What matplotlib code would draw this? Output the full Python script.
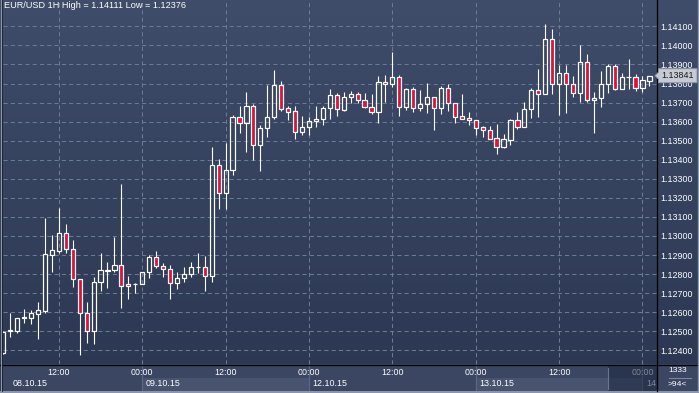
"""
EUR/USD 1H candlestick chart (08.10.15 - 14.10.15)
"""

import numpy as np
import pandas as pd
import matplotlib
matplotlib.use('Agg')
import matplotlib.pyplot as plt
from matplotlib.colors import LinearSegmentedColormap
from matplotlib.patches import Rectangle, Polygon

plt.rcParams['font.family'] = ['Liberation Sans', 'DejaVu Sans']

# hourly bars, weekend skipped
times = pd.date_range('2015-10-08 04:00', '2015-10-09 23:00', freq='h').append(
    pd.date_range('2015-10-12 00:00', '2015-10-14 01:00', freq='h'))

opens = [1.12388, 1.12501, 1.12503, 1.12568, 1.12571, 1.12592, 1.12608, 1.12902, 1.12923, 1.13016,
         1.12930, 1.12772, 1.12594, 1.12500, 1.12757, 1.12816, 1.12820, 1.12846, 1.12746, 1.12748,
         1.12746, 1.12809, 1.12888, 1.12841, 1.12825, 1.12751, 1.12778, 1.12799, 1.12835, 1.12835,
         1.12788, 1.13371, 1.13227, 1.13344, 1.13622, 1.13594, 1.13682, 1.13479, 1.13565, 1.13622,
         1.13792, 1.13670, 1.13655, 1.13544, 1.13570, 1.13601, 1.13612, 1.13670, 1.13740, 1.13661,
         1.13727, 1.13743, 1.13712, 1.13675, 1.13649, 1.13806, 1.13795, 1.13832, 1.13675, 1.13769,
         1.13670, 1.13691, 1.13727, 1.13670, 1.13775, 1.13696, 1.13629, 1.13618, 1.13609, 1.13570,
         1.13554, 1.13512, 1.13468, 1.13506, 1.13608, 1.13573, 1.13664, 1.13764, 1.13747, 1.14032,
         1.13796, 1.13853, 1.13796, 1.13752, 1.13911, 1.13712, 1.13722, 1.13796, 1.13890, 1.13773,
         1.13832, 1.13834, 1.13775, 1.13813]
highs = [1.12500, 1.12594, 1.12568, 1.12617, 1.12612, 1.12654, 1.13096, 1.13005, 1.13148, 1.13063,
         1.12979, 1.12772, 1.12654, 1.12783, 1.12912, 1.12863, 1.12996, 1.13273, 1.12790, 1.12751,
         1.12813, 1.12900, 1.12921, 1.12856, 1.12848, 1.12811, 1.12839, 1.12865, 1.12909, 1.12895,
         1.13465, 1.13402, 1.13486, 1.13634, 1.13682, 1.13755, 1.13694, 1.13582, 1.13792, 1.13871,
         1.13813, 1.13682, 1.13682, 1.13629, 1.13622, 1.13682, 1.13682, 1.13771, 1.13748, 1.13753,
         1.13761, 1.13755, 1.13752, 1.13745, 1.13839, 1.13844, 1.13965, 1.13844, 1.13775, 1.13780,
         1.13766, 1.13801, 1.13727, 1.13787, 1.13797, 1.13696, 1.13745, 1.13650, 1.13609, 1.13577,
         1.13577, 1.13587, 1.13535, 1.13614, 1.13650, 1.13701, 1.13775, 1.13876, 1.14111, 1.14086,
         1.13897, 1.13897, 1.13839, 1.14002, 1.13955, 1.13755, 1.13865, 1.13902, 1.13902, 1.13853,
         1.13928, 1.13850, 1.13839, 1.13841]
lows = [1.12380, 1.12472, 1.12493, 1.12545, 1.12538, 1.12459, 1.12598, 1.12813, 1.12912, 1.12909,
        1.12734, 1.12376, 1.12437, 1.12435, 1.12713, 1.12729, 1.12809, 1.12620, 1.12667, 1.12702,
        1.12746, 1.12778, 1.12830, 1.12783, 1.12667, 1.12720, 1.12760, 1.12783, 1.12807, 1.12713,
        1.12760, 1.13143, 1.13143, 1.13322, 1.13542, 1.13442, 1.13400, 1.13343, 1.13519, 1.13614,
        1.13657, 1.13608, 1.13509, 1.13530, 1.13528, 1.13573, 1.13582, 1.13614, 1.13631, 1.13656,
        1.13696, 1.13699, 1.13673, 1.13640, 1.13591, 1.13705, 1.13783, 1.13631, 1.13661, 1.13652,
        1.13657, 1.13647, 1.13556, 1.13640, 1.13657, 1.13594, 1.13615, 1.13584, 1.13530, 1.13521,
        1.13510, 1.13430, 1.13460, 1.13477, 1.13561, 1.13573, 1.13621, 1.13626, 1.13743, 1.13747,
        1.13635, 1.13647, 1.13731, 1.13705, 1.13705, 1.13542, 1.13678, 1.13748, 1.13766, 1.13771,
        1.13771, 1.13760, 1.13756, 1.13787]
closes = [1.12498, 1.12507, 1.12568, 1.12573, 1.12594, 1.12610, 1.12905, 1.12925, 1.13016, 1.12930,
          1.12772, 1.12594, 1.12500, 1.12757, 1.12820, 1.12820, 1.12846, 1.12736, 1.12736, 1.12750,
          1.12809, 1.12888, 1.12842, 1.12825, 1.12751, 1.12778, 1.12799, 1.12835, 1.12836, 1.12788,
          1.13371, 1.13227, 1.13344, 1.13622, 1.13594, 1.13682, 1.13479, 1.13565, 1.13624, 1.13792,
          1.13668, 1.13652, 1.13544, 1.13570, 1.13603, 1.13612, 1.13670, 1.13740, 1.13664, 1.13729,
          1.13743, 1.13712, 1.13675, 1.13649, 1.13806, 1.13795, 1.13832, 1.13675, 1.13769, 1.13670,
          1.13691, 1.13727, 1.13670, 1.13775, 1.13696, 1.13626, 1.13615, 1.13607, 1.13568, 1.13554,
          1.13510, 1.13468, 1.13509, 1.13608, 1.13573, 1.13664, 1.13764, 1.13747, 1.14032, 1.13796,
          1.13853, 1.13796, 1.13752, 1.13911, 1.13712, 1.13722, 1.13796, 1.13890, 1.13773, 1.13832,
          1.13834, 1.13775, 1.13817, 1.13841]

price_ticks = [1.124, 1.125, 1.126, 1.127, 1.128, 1.129, 1.130, 1.131,
               1.132, 1.133, 1.134, 1.135, 1.136, 1.137, 1.138, 1.139, 1.140, 1.141]
title = 'EUR/USD 1H High = 1.14111 Low = 1.12376'
bar_count = '1333'
visible_bars = '>94<'

# ---- layout (pixels) ----
W, H = 699, 393
PLOT_L, PLOT_R, PLOT_T, PLOT_B = 3, 657, 1, 364
STRIP_B = 391
TXT = 'white'
FS = 6.4
RED = '#dc143c'

o = np.array(opens)
h = np.array(highs)
l = np.array(lows)
c = np.array(closes)
idx = np.arange(len(o))
body_lo = np.minimum(o, c)
body_hi = np.maximum(o, c)
bear = c < o

fig = plt.figure(figsize=(W / 100, H / 100), dpi=100)

# background gradient
bg = fig.add_axes([0, 0, 1, 1])
grad = np.linspace(0, 1, 256).reshape(-1, 1)
cmap = LinearSegmentedColormap.from_list('bg', ['#3f4c6a', '#2b3751'])
bg.imshow(grad, aspect='auto', cmap=cmap, extent=[0, 1, 0, 1])
bg.axis('off')

# main price axes
ax = fig.add_axes([PLOT_L / W, (H - PLOT_B) / H, (PLOT_R - PLOT_L) / W, (PLOT_B - PLOT_T) / H])
ax.set_facecolor('none')
ax.set_xlim(-0.04, 94.09)
ax.set_ylim(1.12328, 1.14233)

time_ticks = [i for i, t in enumerate(times) if t.minute == 0 and t.hour in (0, 12)]
ax.set_xticks(time_ticks)
ax.set_yticks(price_ticks)
ax.yaxis.tick_right()
ax.set_yticklabels(['%.5f' % p for p in price_ticks])
ax.tick_params(axis='y', length=0, pad=2.2, labelsize=FS, labelcolor=TXT)
ax.tick_params(axis='x', length=0, labelbottom=False)
ax.grid(True, color='#6c7996', linestyle=(0, (4, 3)), linewidth=0.75)
for s in ax.spines.values():
    s.set_visible(False)

# wicks
lw_px = 0.72
ax.vlines(idx, body_hi, h, color='white', linewidth=lw_px * 1.1, zorder=3)
ax.vlines(idx, l, body_lo, color='white', linewidth=lw_px * 1.1, zorder=3)
# bodies
heights = np.maximum(body_hi - body_lo, 0.00001)
ax.bar(idx, heights, bottom=body_lo, width=0.6,
       color=[RED if b else 'none' for b in bear],
       edgecolor='white', linewidth=lw_px * 1.2, zorder=4)

ax.text(-0.04 + 0.15, 1.14233, title, ha='left', va='top', color=TXT, fontsize=6.6,
        transform=ax.transData)

# bottom time strip
strip = fig.add_axes([PLOT_L / W, (H - STRIP_B) / H, (PLOT_R - PLOT_L) / W, (STRIP_B - PLOT_B) / H],
                     sharex=ax)
strip.set_facecolor('#3a4662')
strip.set_ylim(0, 1)
strip.tick_params(left=False, bottom=False, labelleft=False, labelbottom=False)
for s in strip.spines.values():
    s.set_visible(False)

day_starts = [i for i, t in enumerate(times) if t.hour == 0]
days = [times[0].normalize()] + [times[i].normalize() for i in day_starts]
starts = [-4] + day_starts
for k, (d, s0) in enumerate(zip(days, starts)):
    end = starts[k + 1] if k + 1 < len(starts) else 94.09
    if k % 2 == 1:
        strip.axvspan(s0, end, ymin=0, ymax=0.5, color='#47536f', lw=0, zorder=1)
    if s0 >= 0:
        strip.axvline(s0, color='#5b6782', lw=0.9, zorder=2)
    strip.text(max(s0 + 0.55, 1.35), 0.27, d.strftime('%d.%m.%y'), ha='left', va='center',
               color=TXT, fontsize=FS, clip_on=True, zorder=3)
for i in time_ticks:
    strip.text(i, 0.70, times[i].strftime('%H:%M'), ha='center', va='center',
               color=TXT, fontsize=FS, clip_on=True, zorder=3)

# overlay for frame elements (pixel coordinates)
ov = fig.add_axes([0, 0, 1, 1])
ov.set_facecolor('none')
ov.set_xlim(0, W)
ov.set_ylim(H, 0)
ov.axis('off')

ov.add_patch(Rectangle((PLOT_R, PLOT_B), W - PLOT_R, STRIP_B - PLOT_B, color='#3a4662', lw=0))
ov.add_patch(Rectangle((608, PLOT_B + 1), PLOT_R - 608, STRIP_B - PLOT_B - 1,
                       color='#1c2640', alpha=0.55, lw=0))
ov.plot([607.5, 607.5], [368, 389], color='#6a7590', lw=0.8)
ov.plot([PLOT_R - 0.5, PLOT_R - 0.5], [0, STRIP_B], color='black', lw=0.9)
ov.plot([0, W], [PLOT_B + 0.5, PLOT_B + 0.5], color='black', lw=0.9)
ov.plot([1.8, 1.8], [0, STRIP_B], color='#141a28', lw=1.2)
ov.add_patch(Rectangle((0, STRIP_B), W, H - STRIP_B, color='#8d96a8', lw=0))
ov.plot([0.5, 0.5], [0, H], color='#8d96a8', lw=0.8)
ov.plot([W - 0.7, W - 0.7], [0, H], color='#8d96a8', lw=1.0)

ov.text(678, 370.5, bar_count, ha='center', va='center', color=TXT, fontsize=6.1)
ov.plot([668.5, 690.5], [377.8, 377.8], color='#7d8799', lw=0.8)
ov.text(677, 384, visible_bars, ha='center', va='center', color=TXT, fontsize=6.1)

# last price marker
fig.canvas.draw()
y_last = H - ax.transData.transform((0, closes[-1]))[1]
ov.add_patch(Polygon([(655, y_last), (658.5, y_last - 3.5), (658.5, y_last - 7),
                      (697, y_last - 7), (697, y_last + 7), (658.5, y_last + 7),
                      (658.5, y_last + 3.5)], closed=True,
                     facecolor='#c6cad2', edgecolor='#8e96a6', lw=0.7, zorder=5))
ov.text(677.5, y_last, '%.5f' % closes[-1], ha='center', va='center', color='#1a1a1a',
        fontsize=FS, zorder=6)

fig.savefig('out.png', dpi=100)
plt.close(fig)
